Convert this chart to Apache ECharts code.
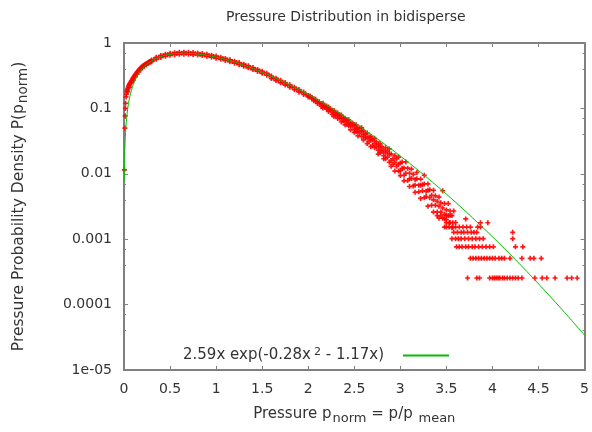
<!DOCTYPE html>
<html><head><meta charset="utf-8">
<script src="https://cdn.jsdelivr.net/npm/echarts@6/dist/echarts.min.js"></script>
<style>html,body{margin:0;padding:0;background:#fff}#c{width:592px;height:432px}</style>
</head><body><div id="c"></div><script>
const titleText = 'Pressure Distribution in bidisperse';
const fitName = '2.59x exp(-0.28x2 - 1.17x)';
const fitLegendRich = '2.59x exp(-0.28x{sup|2} - 1.17x){gap|}';
const xAxisTitle = 'Pressure p{sub|norm} = p/p {sub|mean}';
const yAxisTitle = 'Pressure Probability Density P(p{sub|norm})';
const yTickLabels = ['1e-05', '0.0001', '0.001', '0.01', '0.1', '1'];

// fitted curve
const fitX = [0.003, 0.01, 0.02, 0.04, 0.06, 0.1, 0.15, 0.2, 0.3, 0.4, 0.5, 0.6, 0.7, 0.8, 0.9, 1.0, 1.1, 1.2, 1.3, 1.4, 1.5, 1.6, 1.7, 1.8, 1.9, 2.0, 2.1, 2.2, 2.3, 2.4, 2.5, 2.6, 2.7, 2.8, 2.9, 3.0, 3.1, 3.2, 3.3, 3.4, 3.5, 3.6, 3.75, 4.0, 4.25, 4.5, 4.75, 5.0];
const fitY = [0.0077, 0.0256, 0.0506, 0.0988, 0.1447, 0.2297, 0.324, 0.4053, 0.5334, 0.6204, 0.6726, 0.6963, 0.6969, 0.6793, 0.6482, 0.6077, 0.5607, 0.5100, 0.4583, 0.4072, 0.3578, 0.3112, 0.2682, 0.2291, 0.1940, 0.1628, 0.1356, 0.1120, 0.0919, 0.0748, 0.0604, 0.04843, 0.03857, 0.0305, 0.02395, 0.0187, 0.01449, 0.01116, 0.00853, 0.00648, 0.00489, 0.00367, 0.002355, 0.001091, 0.000486, 0.000208, 0.0000857, 0.0000341];

// measured histogram points
const scatterRise = [
  [0.005, 0.0115], [0.01, 0.05], [0.012, 0.077], [0.015, 0.1], [0.018, 0.12], [0.022, 0.15], [0.026, 0.165],
  [0.03, 0.18], [0.035, 0.19], [0.04, 0.2], [0.045, 0.21], [0.05, 0.22], [0.055, 0.225], [0.06, 0.235], [0.065, 0.24],
  [0.07, 0.25], [0.08, 0.265], [0.09, 0.28], [0.1, 0.295], [0.11, 0.31], [0.12, 0.325], [0.13, 0.34], [0.14, 0.355],
  [0.15, 0.37], [0.16, 0.385], [0.17, 0.40], [0.18, 0.41], [0.19, 0.425], [0.2, 0.44], [0.21, 0.45], [0.22, 0.46],
  [0.23, 0.47], [0.24, 0.48], [0.25, 0.49], [0.26, 0.50], [0.27, 0.51], [0.28, 0.52], [0.29, 0.53],
  [0.04, 0.18], [0.06, 0.21], [0.08, 0.245], [0.1, 0.27], [0.12, 0.30], [0.14, 0.33], [0.16, 0.36], [0.18, 0.39],
  [0.2, 0.42], [0.22, 0.44], [0.24, 0.465], [0.26, 0.485], [0.28, 0.505]
];
const scatterBand = [
  [0.30, 0.552], [0.30, 0.518], [0.325, 0.558], [0.35, 0.604], [0.35, 0.562], [0.375, 0.602],
  [0.40, 0.645], [0.40, 0.600], [0.425, 0.636], [0.45, 0.674], [0.45, 0.628], [0.475, 0.662],
  [0.50, 0.697], [0.50, 0.650], [0.525, 0.681], [0.55, 0.712], [0.55, 0.664], [0.575, 0.692],
  [0.60, 0.721], [0.60, 0.672], [0.625, 0.698], [0.65, 0.724], [0.65, 0.675], [0.675, 0.699],
  [0.70, 0.722], [0.70, 0.673], [0.725, 0.694], [0.75, 0.715], [0.75, 0.666], [0.775, 0.685],
  [0.80, 0.704], [0.80, 0.656], [0.825, 0.673], [0.85, 0.689], [0.85, 0.642], [0.875, 0.657],
  [0.90, 0.672], [0.90, 0.626], [0.925, 0.639], [0.95, 0.652], [0.95, 0.607], [0.975, 0.618],
  [1.00, 0.630], [1.00, 0.586], [1.025, 0.596], [1.05, 0.606], [1.05, 0.564], [1.075, 0.573],
  [1.10, 0.581], [1.10, 0.541], [1.125, 0.548], [1.15, 0.555], [1.15, 0.517], [1.175, 0.523],
  [1.20, 0.528], [1.20, 0.492], [1.225, 0.497], [1.25, 0.502], [1.25, 0.467], [1.275, 0.471],
  [1.30, 0.475], [1.30, 0.442], [1.325, 0.445], [1.35, 0.448], [1.35, 0.417], [1.375, 0.420],
  [1.40, 0.421], [1.40, 0.392], [1.425, 0.395], [1.45, 0.395], [1.45, 0.368], [1.475, 0.370],
  [1.50, 0.370], [1.50, 0.344], [1.525, 0.346], [1.55, 0.345], [1.55, 0.321], [1.575, 0.322],
  [1.60, 0.313], [1.60, 0.286], [1.625, 0.290], [1.65, 0.290], [1.65, 0.266], [1.675, 0.270],
  [1.70, 0.269], [1.70, 0.246], [1.725, 0.249], [1.75, 0.249], [1.75, 0.227], [1.775, 0.230],
  [1.80, 0.229], [1.80, 0.210], [1.825, 0.212], [1.85, 0.211], [1.85, 0.193], [1.875, 0.195],
  [1.90, 0.194], [1.90, 0.177], [1.925, 0.179], [1.95, 0.178], [1.95, 0.163], [1.975, 0.164]
];
const scatterSpread = [
  [2.00, 0.158], [2.00, 0.150], [2.02, 0.149], [2.02, 0.155], [2.04, 0.141], [2.04, 0.147],
  [2.06, 0.140], [2.06, 0.131], [2.08, 0.138], [2.08, 0.129], [2.10, 0.127], [2.10, 0.119],
  [2.12, 0.126], [2.12, 0.119], [2.14, 0.119], [2.14, 0.108], [2.16, 0.120], [2.16, 0.111], [2.16, 0.101],
  [2.18, 0.109], [2.18, 0.104], [2.20, 0.109], [2.20, 0.097], [2.22, 0.100], [2.22, 0.090], [2.22, 0.105],
  [2.24, 0.093], [2.24, 0.099], [2.26, 0.093], [2.26, 0.081], [2.28, 0.093], [2.28, 0.084], [2.28, 0.075],
  [2.30, 0.085], [2.30, 0.078], [2.32, 0.085], [2.32, 0.078], [2.32, 0.070], [2.34, 0.079], [2.34, 0.071],
  [2.36, 0.079], [2.36, 0.071], [2.36, 0.062], [2.38, 0.071], [2.38, 0.064], [2.40, 0.071], [2.40, 0.064], [2.40, 0.056],
  [2.42, 0.066], [2.42, 0.057], [2.44, 0.067], [2.44, 0.060], [2.44, 0.054], [2.46, 0.059], [2.46, 0.055], [2.46, 0.047],
  [2.48, 0.060], [2.48, 0.054], [2.50, 0.056], [2.50, 0.048], [2.50, 0.043], [2.52, 0.056], [2.52, 0.050], [2.52, 0.044],
  [2.54, 0.050], [2.54, 0.045], [2.54, 0.038], [2.56, 0.050], [2.56, 0.042], [2.58, 0.045], [2.58, 0.037], [2.58, 0.0506],
  [2.60, 0.045], [2.60, 0.040], [2.60, 0.033], [2.62, 0.040], [2.62, 0.036], [2.64, 0.042], [2.64, 0.035], [2.64, 0.029],
  [2.66, 0.037], [2.66, 0.031], [2.68, 0.037], [2.68, 0.033], [2.68, 0.026], [2.70, 0.033], [2.70, 0.027],
  [2.72, 0.035], [2.72, 0.029], [2.72, 0.025], [2.74, 0.031], [2.74, 0.026], [2.76, 0.028], [2.76, 0.023], [2.76, 0.020],
  [2.78, 0.029], [2.78, 0.025], [2.78, 0.021], [2.80, 0.026], [2.80, 0.022], [2.82, 0.023], [2.82, 0.019], [2.82, 0.017],
  [2.84, 0.025], [2.84, 0.021], [2.84, 0.017], [2.86, 0.022], [2.86, 0.018], [2.88, 0.024], [2.88, 0.020], [2.88, 0.015],
  [2.90, 0.020], [2.90, 0.016], [2.90, 0.013], [2.92, 0.017], [2.92, 0.014], [2.94, 0.019], [2.94, 0.015], [2.94, 0.011],
  [2.96, 0.017], [2.96, 0.013], [2.98, 0.018], [2.98, 0.014], [2.98, 0.011],
  [3.00, 0.0146], [3.00, 0.0112], [3.00, 0.0094], [3.02, 0.0151], [3.02, 0.0121],
  [3.04, 0.0123], [3.04, 0.0095], [3.04, 0.0078], [3.06, 0.0152], [3.06, 0.0102], [3.08, 0.0122], [3.08, 0.0079],
  [3.10, 0.0102], [3.10, 0.0084], [3.10, 0.0064], [3.12, 0.0118], [3.12, 0.0085], [3.14, 0.0098], [3.14, 0.0065],
  [3.16, 0.0082], [3.16, 0.0067], [3.16, 0.0052], [3.18, 0.0105], [3.18, 0.0084], [3.20, 0.0067], [3.20, 0.0053],
  [3.22, 0.0083], [3.22, 0.0067], [3.22, 0.0042], [3.24, 0.0055], [3.24, 0.0068], [3.26, 0.0095], [3.26, 0.0070], [3.26, 0.0043],
  [3.28, 0.0054], [3.28, 0.0045], [3.30, 0.0070], [3.30, 0.0056], [3.30, 0.0032], [3.32, 0.0043], [3.32, 0.0057],
  [3.34, 0.0047], [3.34, 0.0033], [3.36, 0.0056], [3.36, 0.0040], [3.36, 0.0026], [3.38, 0.0046], [3.38, 0.0033],
  [3.40, 0.0038], [3.40, 0.0026], [3.42, 0.0044], [3.42, 0.0032], [3.42, 0.0021], [3.44, 0.0036], [3.44, 0.0026],
  [3.46, 0.0055], [3.46, 0.0030], [3.46, 0.0021], [3.48, 0.0035], [3.48, 0.0024], [3.50, 0.0028], [3.50, 0.0020],
  [3.52, 0.0035], [3.52, 0.0023], [3.54, 0.0027], [3.54, 0.0018], [3.56, 0.0023], [3.56, 0.0015], [3.58, 0.0027], [3.60, 0.0018]
];
// quantised tail: one count level per row
const tailLevelY = [0.000255, 0.00051, 0.000765, 0.00102, 0.001275, 0.00153, 0.001785, 0.00204, 0.0023];
const tailLevelX = [
  [3.73, 3.83, 3.86, 3.97, 4.00, 4.02, 4.04, 4.06, 4.08, 4.11, 4.13, 4.16, 4.19, 4.22, 4.25, 4.28, 4.32, 4.46, 4.54, 4.59, 4.68, 4.81, 4.86, 4.92],
  [3.76, 3.79, 3.82, 3.85, 3.88, 3.91, 3.94, 3.97, 4.00, 4.03, 4.07, 4.10, 4.13, 4.19, 4.32, 4.41, 4.45, 4.53],
  [3.61, 3.64, 3.67, 3.71, 3.74, 3.78, 3.81, 3.85, 3.89, 3.93, 3.97, 4.01, 4.25, 4.33],
  [3.56, 3.60, 3.63, 3.66, 3.70, 3.74, 3.78, 3.82, 3.86, 3.90, 4.22],
  [3.58, 3.62, 3.66, 3.69, 3.73, 3.77, 3.80, 3.83, 4.22],
  [3.48, 3.50, 3.53, 3.57, 3.60, 3.64, 3.68, 3.72, 3.76, 3.84, 3.87],
  [3.50, 3.53, 3.57, 3.87, 3.95],
  [3.48, 3.71],
  [3.40, 3.44, 3.50, 3.54]
];

const scatterTail = [];
tailLevelX.forEach((xs, i) => xs.forEach(x => scatterTail.push([x, tailLevelY[i]])));
const scatterAll = scatterRise.concat(scatterBand, scatterSpread, scatterTail);
const fitData = fitX.map((x, i) => [x, fitY[i]]);

const FONT = 'DejaVu Sans';
const TXT = '#333';
const FRAME = '#808080';
const GREEN = '#00c000';
const plusPath = 'path://M1,0H2V1H3V2H2V3H1V2H0V1H1Z';

const chart = echarts.init(document.getElementById('c'), null, { renderer: 'canvas' });
const xBase = {
  type: 'value', min: 0, max: 5, interval: 0.5,
  axisLine: { show: true, onZero: false, lineStyle: { color: FRAME, width: 2 } },
  axisTick: { show: true, inside: true, length: 4, lineStyle: { color: FRAME } },
  splitLine: { show: false }
};
const yBase = {
  type: 'log', logBase: 10, min: 0.00001, max: 1, splitNumber: 5,
  axisLine: { show: true, onZero: false, lineStyle: { color: FRAME, width: 2 } },
  axisTick: { show: true, inside: true, length: 4, lineStyle: { color: FRAME } },
  minorTick: { show: true, splitNumber: 3, length: 2, lineStyle: { color: FRAME } },
  splitLine: { show: false }
};
chart.setOption({
  animation: false,
  backgroundColor: '#fff',
  textStyle: { fontFamily: FONT },
  title: {
    text: titleText, left: 221, top: 5,
    textStyle: { fontFamily: FONT, fontSize: 14, fontWeight: 'normal', color: TXT }
  },
  grid: { left: 124, right: 6, top: 43, bottom: 62 },
  legend: {
    left: 183, top: 347, padding: 0, align: 'right', itemWidth: 46, itemHeight: 2,
    selectedMode: false,
    data: [{
      name: fitName, icon: 'rect',
      itemStyle: { color: GREEN, borderWidth: 0, opacity: 1 }
    }],
    formatter: () => fitLegendRich,
    textStyle: {
      fontFamily: FONT, fontSize: 15, color: TXT,
      rich: {
        sup: { fontSize: 11, verticalAlign: 'top', padding: [0, 0, 6, 3], fontFamily: FONT, color: TXT },
        gap: { width: 14 }
      }
    }
  },
  xAxis: [
    Object.assign({}, xBase, {
      position: 'bottom',
      axisLabel: { fontFamily: FONT, fontSize: 14, color: TXT, margin: 12 },
      name: xAxisTitle, nameLocation: 'middle', nameGap: 33,
      nameTextStyle: {
        fontFamily: FONT, fontSize: 15, color: TXT,
        rich: { sub: { fontSize: 13, padding: [9, 0, 0, 1], fontFamily: FONT, color: TXT } }
      }
    }),
    Object.assign({}, xBase, { position: 'top', axisLabel: { show: false } })
  ],
  yAxis: [
    Object.assign({}, yBase, {
      position: 'left',
      axisLabel: {
        fontFamily: FONT, fontSize: 14, color: TXT, margin: 12,
        formatter: v => yTickLabels[Math.round(Math.log10(v)) + 5]
      },
      name: yAxisTitle, nameLocation: 'middle', nameRotate: 90, nameGap: 94,
      nameTextStyle: {
        fontFamily: FONT, fontSize: 15.5, color: TXT,
        rich: { sub: { fontSize: 13.5, padding: [9, 0, 0, 1], fontFamily: FONT, color: TXT } }
      }
    }),
    Object.assign({}, yBase, { position: 'right', axisLabel: { show: false } })
  ],
  series: [
    {
      name: 'data', type: 'scatter', xAxisIndex: 0, yAxisIndex: 0,
      symbol: plusPath, symbolSize: 5,
      itemStyle: { color: '#ff0000', opacity: 0.9 },
      data: scatterAll, z: 2
    },
    {
      name: fitName, type: 'line', xAxisIndex: 0, yAxisIndex: 0,
      showSymbol: false, smooth: 0.3,
      lineStyle: { color: GREEN, width: 1 },
      itemStyle: { color: GREEN },
      data: fitData, z: 3
    }
  ]
});
</script></body></html>
